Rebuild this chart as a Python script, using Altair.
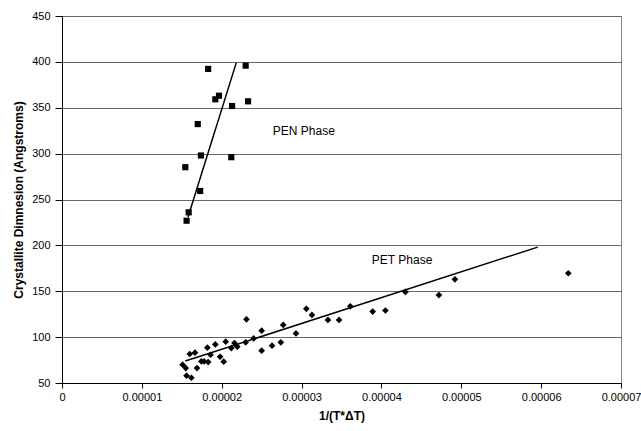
import altair as alt
import pandas as pd

# PEN phase points (x in units of 1e-6)
pen_x = [18.3, 23.0, 19.66, 19.2, 21.3, 23.3, 17.0, 17.4, 21.2, 15.44, 17.3, 15.86, 15.6]
pen_y = [392.3, 395.9, 363.1, 359.2, 351.9, 357.0, 332.2, 298.0, 296.1, 285.2, 259.3, 236.0, 226.9]

# PET phase points (x in units of 1e-6)
pet_x = [30.6, 31.3, 23.1, 33.3, 34.7, 27.7, 25.0, 29.3, 24.0, 23.0, 20.5, 21.6, 21.95, 21.2,
         19.2, 18.2, 18.6, 19.8, 20.25, 16.65, 16.0, 17.45, 17.8, 18.3, 16.9, 15.1, 15.5, 15.6,
         16.2, 27.4, 26.3, 25.0, 36.1, 38.9, 40.5, 43.0, 47.2, 49.2, 63.4]
pet_y = [130.8, 124.2, 119.4, 118.7, 118.7, 113.3, 107.0, 104.0, 98.6, 94.3, 95.0, 93.6, 89.6, 88.1,
         92.0, 88.5, 80.8, 78.6, 73.2, 83.0, 81.6, 73.5, 73.5, 72.8, 66.3, 70.0, 66.3, 58.0,
         55.7, 94.3, 90.7, 85.2, 133.6, 127.8, 129.0, 149.3, 145.8, 163.0, 169.6]

# trend line end points
pen_fit_x = [15.78, 21.83]
pen_fit_y = [230.9, 399.2]
pet_fit_x = [15.44, 59.57]
pet_fit_y = [73.9, 198.1]

labels_text = ["PEN Phase", "PET Phase"]
labels_x = [26.4, 38.8]
labels_y = [324.5, 184.3]

x_ticks = [0, 1e-5, 2e-5, 3e-5, 4e-5, 5e-5, 6e-5, 7e-5]
y_ticks = [50, 100, 150, 200, 250, 300, 350, 400, 450]

S = 1e-6
pen = pd.DataFrame({"x": [v * S for v in pen_x], "y": pen_y})
pet = pd.DataFrame({"x": [v * S for v in pet_x], "y": pet_y})
pen_fit = pd.DataFrame({"x": [v * S for v in pen_fit_x], "y": pen_fit_y})
pet_fit = pd.DataFrame({"x": [v * S for v in pet_fit_x], "y": pet_fit_y})
lab = pd.DataFrame({"x": [v * S for v in labels_x], "y": labels_y, "t": labels_text})

FONT = "Liberation Sans"

xscale = alt.Scale(domain=[0, 7e-5], nice=False, zero=False)
yscale = alt.Scale(domain=[50, 450], nice=False, zero=False)

xax = alt.Axis(
    values=x_ticks,
    labelExpr="datum.value == 0 ? '0' : format(datum.value, '.5f')",
    title="1/(T*ΔT)",
    grid=False,
    domainColor="black",
    tickColor="black",
    tickSize=5,
    labelPadding=3,
    labelFont=FONT,
    labelFontSize=11,
    labelColor="black",
    titleFont=FONT,
    titleFontSize=12,
    titleFontWeight="bold",
    titleColor="black",
    titlePadding=8,
    labelFlush=False,
)
yax = alt.Axis(
    values=y_ticks,
    title="Crystallite Dimnesion (Angstroms)",
    grid=True,
    gridColor="#666666",
    gridWidth=1,
    domainColor="black",
    tickColor="black",
    tickSize=7,
    labelPadding=5,
    labelFont=FONT,
    labelFontSize=11,
    labelColor="black",
    titleFont=FONT,
    titleFontSize=12,
    titleFontWeight="bold",
    titleColor="black",
    titlePadding=6,
)

base_x = alt.X("x:Q", scale=xscale, axis=xax)
base_y = alt.Y("y:Q", scale=yscale, axis=yax)

pen_pts = alt.Chart(pen).mark_point(shape="square", filled=True, color="black", size=38, opacity=1).encode(
    x=base_x, y=base_y)
pet_pts = alt.Chart(pet).mark_point(shape="diamond", filled=True, color="black", size=45, opacity=1).encode(
    x="x:Q", y="y:Q")
pen_line = alt.Chart(pen_fit).mark_line(color="black", strokeWidth=1.5).encode(x="x:Q", y="y:Q")
pet_line = alt.Chart(pet_fit).mark_line(color="black", strokeWidth=1.5).encode(x="x:Q", y="y:Q")
txt = alt.Chart(lab).mark_text(align="left", baseline="middle", font=FONT, fontSize=12, color="black").encode(
    x="x:Q", y="y:Q", text="t:N")

chart = alt.layer(pen_pts, pet_pts, pen_line, pet_line, txt).properties(
    width=559, height=367,
    autosize=alt.AutoSizeParams(type="none"),
    padding={"left": 62, "top": 16, "right": 20, "bottom": 48},
    background="white",
).configure_view(stroke="#888888", strokeWidth=1)

chart.save("out.html", embed_options={"renderer": "svg", "actions": False})
